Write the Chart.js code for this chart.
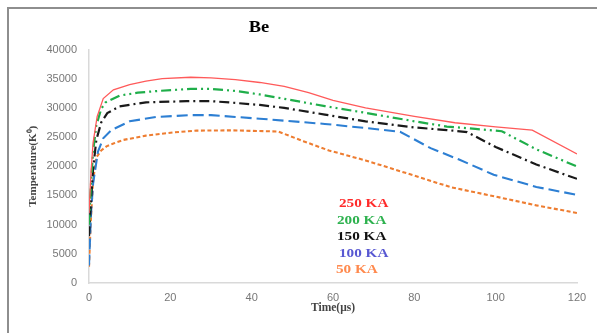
<!DOCTYPE html>
<html><head><meta charset="utf-8">
<script src="https://cdn.jsdelivr.net/npm/chart.js@4"></script>
<style>
html,body{margin:0;padding:0;background:#fff;overflow:hidden;}
#wrap{position:relative;width:597px;height:333px;overflow:hidden;}
#frame{position:absolute;left:7px;top:7px;width:620px;height:360px;border-top:2px solid #8e8e8e;border-left:2px solid #8e8e8e;pointer-events:none;}
canvas{position:absolute;left:0;top:0;}
</style></head><body>
<div id="wrap"><canvas id="c" width="597" height="333"></canvas><div id="frame"></div></div>
<script>
const chartTitle = 'Be';
const xTitle = 'Time(μs)';
const yTitle = 'Temperature(K⁰)';
const seriesNames = ['250 KA', '200 KA', '150 KA', '100 KA', '50 KA'];

const t250 = [0, 0.5, 1, 2, 3.5, 6, 10, 14, 18, 25, 30, 36, 42, 48, 54, 60, 68, 80, 90, 100, 109, 120];
const v250 = [12000, 19000, 24000, 28500, 31600, 33100, 34000, 34600, 35000, 35250, 35150, 34850, 34350, 33700, 32600, 31300, 30000, 28550, 27450, 26750, 26200, 22100];

const t200 = [0, 0.5, 1, 1.8, 3, 4, 7.5, 12, 17, 25, 30, 36, 42, 48, 58, 68, 80, 88, 95, 101.5, 110, 120];
const v200 = [10000, 17000, 22500, 27000, 29800, 30900, 32100, 32600, 32900, 33250, 33250, 32900, 32300, 31550, 30300, 29150, 27700, 26800, 26400, 26000, 22900, 19950];

const t150 = [0, 0.5, 1, 1.8, 3, 4.5, 7.5, 14, 24, 30, 36, 42, 48, 58, 68, 80, 88, 93, 100, 110, 120];
const v150 = [8000, 14000, 19500, 24500, 27500, 29100, 30250, 30950, 31150, 31150, 30850, 30500, 30000, 28850, 27700, 26650, 26200, 25850, 23300, 20300, 17850];

const t100 = [0, 0.5, 1, 2.2, 3.5, 5.5, 10, 16.5, 25, 30, 36, 42, 48, 58, 68, 76.5, 84, 91, 99.5, 110, 120];
const v100 = [3000, 12000, 17000, 22500, 24800, 26200, 27700, 28450, 28750, 28750, 28450, 28150, 27800, 27250, 26550, 25900, 23100, 21150, 18550, 16450, 15100];

const t50 = [0, 0.4, 1, 1.8, 3, 4.3, 6, 8.4, 14, 20.7, 26.4, 35, 46.5, 52.7, 59, 68, 80, 89, 100, 110, 120];
const v50 = [2800, 10000, 17500, 21500, 22700, 23400, 23900, 24500, 25250, 25800, 26100, 26150, 25950, 24300, 22700, 21000, 18400, 16400, 14800, 13300, 12000];

const xTicks = [0, 20, 40, 60, 80, 100, 120];
const yTicks = [0, 5000, 10000, 15000, 20000, 25000, 30000, 35000, 40000];

const lineColors = ['#ff5a5a', '#1fae4a', '#1a1a1a', '#2d7fd3', '#ee7d31'];
const labelColors = ['#ff2b2b', '#2eb24f', '#111111', '#5858d2', '#ff8a4e'];
const dashes = [[], [10, 4, 2, 4, 2, 4], [10, 4, 2, 4], [11, 5], [4, 2.5]];
const widths = [1.3, 2.2, 2.2, 2.1, 2.1];

const times = [t250, t200, t150, t100, t50];
const vals = [v250, v200, v150, v100, v50];

const datasets = seriesNames.map((n, i) => ({
  label: n,
  data: times[i].map((t, j) => ({x: t, y: vals[i][j]})),
  borderColor: lineColors[i],
  borderWidth: widths[i],
  borderDash: dashes[i],
  pointRadius: 0,
  tension: 0,
  fill: false
}));

const annot = {
  id: 'annot',
  afterDraw(chart) {
    const ctx = chart.ctx;
    ctx.save();
    ctx.textBaseline = 'middle';
    ctx.textAlign = 'center';
    ctx.fillStyle = '#000';
    ctx.font = 'bold 16px "Liberation Serif", serif';
    ctx.save();
    ctx.translate(259, 28);
    ctx.scale(1.15, 1);
    ctx.fillText(chartTitle, 0, 0);
    ctx.restore();
    ctx.textAlign = 'left';
    ctx.font = 'bold 13px "Liberation Serif", serif';
    const lx = [339, 337, 337, 339, 336];
    seriesNames.forEach((n, i) => {
      ctx.save();
      ctx.translate(lx[i], 204 + i * 16.5);
      ctx.scale(1.17, 1);
      ctx.fillStyle = labelColors[i];
      ctx.fillText(n, 0, 0);
      ctx.restore();
    });
    ctx.restore();
  }
};

const tickFont = {family: '"Liberation Sans", sans-serif', size: 11};
const plain = v => String(v);

new Chart(document.getElementById('c'), {
  type: 'line',
  data: {datasets},
  options: {
    responsive: false,
    animation: false,
    layout: {padding: {top: 49.5, right: 20, left: 0, bottom: 0}},
    plugins: {legend: {display: false}, tooltip: {enabled: false}},
    scales: {
      x: {
        type: 'linear', min: 0, max: 120,
        afterBuildTicks: s => { s.ticks = xTicks.map(v => ({value: v})); },
        afterFit: s => { s.height = 50; },
        grid: {display: false, drawTicks: false},
        border: {display: true, color: '#d9d9d9', width: 1.5},
        ticks: {color: '#777', font: tickFont, padding: 8, maxRotation: 0, callback: plain},
        title: {display: true, text: xTitle, color: '#444', font: {family: '"Liberation Serif", serif', size: 11.5, weight: 'bold'}, padding: {top: 0, bottom: 18.5}}
      },
      y: {
        type: 'linear', min: 0, max: 40000,
        afterBuildTicks: s => { s.ticks = yTicks.map(v => ({value: v})); },
        afterFit: s => { s.width = 89; },
        grid: {display: false, drawTicks: false},
        border: {display: true, color: '#d9d9d9', width: 1.5},
        ticks: {color: '#777', font: tickFont, padding: 12, callback: plain},
        title: {display: true, text: yTitle, color: '#444', font: {family: '"Liberation Serif", serif', size: 11, weight: 'bold'}, padding: {top: 26.5, bottom: 0}}
      }
    }
  },
  plugins: [annot]
});
</script>
</body></html>
